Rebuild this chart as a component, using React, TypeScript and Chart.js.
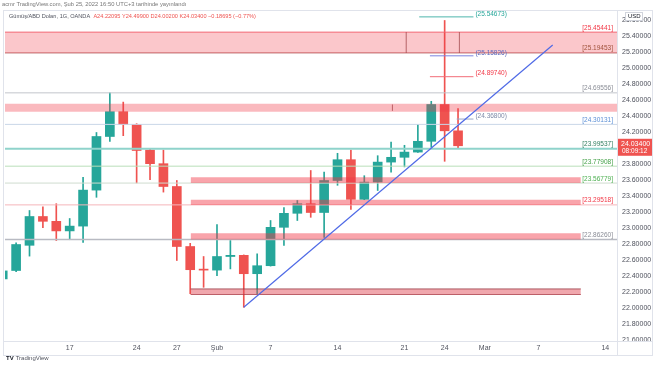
import React, { useEffect, useRef } from "react";
import { Chart, registerables } from "chart.js";
Chart.register(...registerables);

// Trading days (index 0 = 10 Oca 2022)
const dates = [
  "10 Oca", "11 Oca", "12 Oca", "13 Oca", "14 Oca", "17 Oca", "18 Oca", "19 Oca", "20 Oca", "21 Oca",
  "24 Oca", "25 Oca", "26 Oca", "27 Oca", "28 Oca", "31 Oca", "1 Şub", "2 Şub", "3 Şub", "4 Şub",
  "7 Şub", "8 Şub", "9 Şub", "10 Şub", "11 Şub", "14 Şub", "15 Şub", "16 Şub", "17 Şub", "18 Şub",
  "21 Şub", "22 Şub", "23 Şub", "24 Şub", "25 Şub",
];
const opens = [
  22.37, 22.475, 22.79, 23.15, 23.09, 22.97, 23.03, 23.48, 24.15, 24.46,
  24.30, 23.98, 23.81, 23.525, 22.775, 22.49, 22.48, 22.65, 22.665, 22.435,
  22.535, 23.015, 23.19, 23.31, 23.20, 23.60, 23.86, 23.365, 23.58, 23.83,
  23.89, 23.955, 24.09, 24.55, 24.22095,
];
const highs = [
  22.48, 22.82, 23.225, 23.27, 23.31, 23.125, 23.64, 24.20, 24.69556, 24.58,
  24.31, 23.99, 23.98, 23.60, 22.815, 22.65, 23.05, 22.85, 22.67, 22.685,
  23.10, 23.26, 23.35, 23.725, 23.705, 23.94, 23.98, 23.66, 23.91, 24.08,
  24.04, 24.30, 24.59, 25.60, 24.499,
];
const lows = [
  22.36, 22.46, 22.655, 23.01, 22.85, 22.86, 22.825, 23.39, 24.09, 24.16,
  23.57, 23.61, 23.455, 22.60, 22.185, 22.265, 22.41, 22.495, 22.015, 22.185,
  22.53, 22.79, 23.10, 23.14, 22.89, 23.54, 23.24, 23.36, 23.475, 23.705,
  23.77, 23.95, 24.015, 23.84, 24.002,
];
const closes = [
  22.47, 22.80, 23.15, 23.09, 22.97, 23.03, 23.48, 24.15, 24.46, 24.30,
  23.975, 23.81, 23.525, 22.775, 22.485, 22.48, 22.65, 22.665, 22.435, 22.535,
  23.015, 23.19, 23.31, 23.20, 23.60, 23.86, 23.365, 23.58, 23.83, 23.89,
  23.955, 24.09, 24.55, 24.22095, 24.034,
];

const xMin = 0.17;
const xMax = 45.87;
const xTickIdx = [5, 10, 13, 16, 20, 25, 30, 33, 36, 40, 45];
const xTickLabels = ["17", "24", "27", "Şub", "7", "14", "21", "24", "Mar", "7", "14"];
const yTicks = [21.6, 21.8, 22.0, 22.2, 22.4, 22.6, 22.8, 23.0, 23.2, 23.4, 23.6, 23.8, 24.0, 24.2, 24.4, 24.6, 24.8, 25.0, 25.2, 25.4, 25.6];

// full-width horizontal levels
const levelValues = [25.45441, 25.19453, 24.69556, 24.30131, 23.99537, 23.77908, 23.56779, 23.29518, 22.8626];
const levelLineColors = ["#f26d78", "#b86a6a", "#c3c5cc", "#c9d6e8", "#8fd3cb", "#b9dfb9", "#cfdccf", "#f5b5ba", "#b8bac2"];
const levelLineWidths = [1, 1, 1, 1, 2, 1, 1, 1, 1.5];
const levelTextColors = ["#f23645", "#a0523c", "#8a8d96", "#5b8fd6", "#2f7d5e", "#43a047", "#4caf50", "#f23645", "#8a8d96"];

// shaded zones
const zoneTops = [25.45441, 24.56, 23.64, 23.36, 22.94, 22.245];
const zoneBottoms = [25.19453, 24.46, 23.56779, 23.29518, 22.8626, 22.175];
const zoneStarts = [xMin, xMin, 14.03, 14.03, 14.03, 14.03];
const zoneEnds = [xMax, xMax, 43.17, 43.17, 43.17, 43.17];
const zoneFills = [
  "rgba(242,54,69,0.28)", "rgba(242,54,69,0.35)", "rgba(242,54,69,0.45)",
  "rgba(242,54,69,0.45)", "rgba(242,54,69,0.45)", "rgba(225,80,92,0.5)",
];
const zoneBorders = ["rgba(0,0,0,0)", "rgba(0,0,0,0)", "rgba(0,0,0,0)", "rgba(0,0,0,0)", "rgba(0,0,0,0)", "rgba(150,50,60,0.75)"];

// short price notes near the last candles
const noteValues = [25.645, 25.15826, 24.8974, 24.368];
const noteLabels = ["(25.54673)", "(25.15826)", "(24.89740)", "(24.36800)"];
const noteStarts = [31.1, 31.9, 31.9, 33.9];
const noteEnd = 35.15;
const noteColors = ["#4db6ac", "#7b83e0", "#f26d78", "#9aa6c8"];
const noteTextColors = ["#26a69a", "#5c6bc0", "#f23645", "#7f8aa8"];

// rectangle edges inside zones
const edgeX = [30.13, 34.1, 29.1];
const edgeLow = [25.19453, 25.19453, 24.47];
const edgeHigh = [25.45441, 25.45441, 24.55];

// trend line
const trendX = [18, 41.07];
const trendY = [22.016, 25.294];

const UP = "#26a69a";
const DOWN = "#ef5350";
const FONT = '"Liberation Sans", Arial, sans-serif';

export default function App() {
  const ref = useRef<HTMLCanvasElement | null>(null);

  useEffect(() => {
    document.body.style.margin = "0";
    const canvas = ref.current;
    if (!canvas) return;

    const colors = closes.map((c, i) => (c >= opens[i] ? UP : DOWN));
    const datasets: any[] = [];

    zoneTops.forEach((t, k) => {
      datasets.push({
        type: "line",
        data: [{ x: zoneStarts[k], y: t }, { x: zoneEnds[k], y: t }],
        borderColor: zoneBorders[k],
        borderWidth: 1,
        pointRadius: 0,
        fill: { value: zoneBottoms[k] },
        backgroundColor: zoneFills[k],
        order: 1,
      });
    });
    datasets.push({
      type: "line",
      data: [{ x: zoneStarts[5], y: zoneBottoms[5] }, { x: zoneEnds[5], y: zoneBottoms[5] }],
      borderColor: zoneBorders[5],
      borderWidth: 1,
      pointRadius: 0,
      fill: false,
      order: 1,
    });
    edgeX.forEach((ex, k) => {
      datasets.push({
        type: "line",
        data: [{ x: ex, y: edgeLow[k] }, { x: ex, y: edgeHigh[k] }],
        borderColor: "rgba(120,60,60,0.7)",
        borderWidth: 1,
        pointRadius: 0,
        fill: false,
        order: 1,
      });
    });
    levelValues.forEach((v, k) => {
      datasets.push({
        type: "line",
        data: [{ x: xMin, y: v }, { x: xMax, y: v }],
        borderColor: levelLineColors[k],
        borderWidth: levelLineWidths[k],
        pointRadius: 0,
        fill: false,
        order: 2,
      });
    });
    noteValues.forEach((v, k) => {
      datasets.push({
        type: "line",
        data: [{ x: noteStarts[k], y: v }, { x: noteEnd, y: v }],
        borderColor: noteColors[k],
        borderWidth: 1,
        pointRadius: 0,
        fill: false,
        order: 1,
      });
    });
    datasets.push({
      type: "line",
      data: [{ x: trendX[0], y: trendY[0] }, { x: trendX[1], y: trendY[1] }],
      borderColor: "#4f6ae6",
      borderWidth: 1.2,
      pointRadius: 0,
      fill: false,
      order: 0,
    });
    datasets.push({
      type: "bar",
      data: lows.map((l, i) => ({ x: i, y: [l, highs[i]] })),
      backgroundColor: colors,
      barThickness: 1,
      grouped: false,
      clip: 0,
      order: 6,
    });
    datasets.push({
      type: "bar",
      data: opens.map((o, i) => ({ x: i, y: [o, closes[i]] })),
      backgroundColor: colors,
      barThickness: 9,
      minBarLength: 1,
      grouped: false,
      clip: 0,
      order: 5,
    });

    const overlay = {
      id: "overlay",
      afterDraw(chart: any) {
        const { ctx, chartArea, scales } = chart;
        const ys = scales.y;
        const xs = scales.x;
        ctx.save();
        // frame
        ctx.strokeStyle = "#e0e3eb";
        ctx.lineWidth = 1;
        ctx.strokeRect(3.5, 10.5, 649, 345);
        ctx.beginPath();
        ctx.moveTo(chartArea.right + 0.5, 10.5);
        ctx.lineTo(chartArea.right + 0.5, 355.5);
        ctx.moveTo(3.5, chartArea.bottom + 0.5);
        ctx.lineTo(652.5, chartArea.bottom + 0.5);
        ctx.stroke();

        ctx.font = "6.5px " + FONT;
        ctx.textAlign = "right";
        ctx.textBaseline = "bottom";
        levelValues.forEach((v, k) => {
          ctx.fillStyle = levelTextColors[k];
          ctx.fillText("[" + v.toFixed(5) + "]", chartArea.right - 4, ys.getPixelForValue(v) - 1);
        });
        ctx.textAlign = "left";
        ctx.textBaseline = "middle";
        noteValues.forEach((v, k) => {
          ctx.fillStyle = noteTextColors[k];
          ctx.fillText(noteLabels[k], xs.getPixelForValue(noteEnd) + 2, ys.getPixelForValue(v) - 3);
        });

        // last price box
        const last = closes[closes.length - 1];
        const py = ys.getPixelForValue(last);
        ctx.fillStyle = DOWN;
        ctx.fillRect(chartArea.right + 1, py - 7, 34, 17);
        ctx.fillStyle = "#ffffff";
        ctx.font = "7px " + FONT;
        ctx.textAlign = "left";
        ctx.fillText(last.toFixed(5), chartArea.right + 4, py - 1.5);
        ctx.font = "6.5px " + FONT;
        ctx.fillText("08:09:12", chartArea.right + 5, py + 5.5);

        // currency label
        ctx.fillStyle = "#ffffff";
        ctx.fillRect(chartArea.right + 8, 12, 18, 9);
        ctx.strokeStyle = "#d1d4dc";
        ctx.strokeRect(chartArea.right + 8.5, 12.5, 17, 8);
        ctx.fillStyle = "#131722";
        ctx.font = "6px " + FONT;
        ctx.fillText("USD", chartArea.right + 11, 16.8);
        ctx.restore();
      },
    };

    const chart = new Chart(canvas, {
      type: "bar",
      data: { datasets },
      options: {
        animation: false,
        responsive: false,
        devicePixelRatio: 1,
        layout: { padding: { left: 5, top: 12, right: 0, bottom: 11 } },
        plugins: { legend: { display: false }, tooltip: { enabled: false } },
        scales: {
          x: {
            type: "linear",
            min: xMin,
            max: xMax,
            offset: false,
            grid: { display: false, drawTicks: false },
            border: { display: false },
            afterBuildTicks: (s: any) => {
              s.ticks = xTickIdx.map((v) => ({ value: v }));
            },
            afterFit: (s: any) => {
              s.height = 14;
            },
            ticks: {
              autoSkip: false,
              maxRotation: 0,
              padding: 3,
              color: "#50535e",
              font: { family: FONT, size: 7 },
              callback: (v: any) => {
                const k = xTickIdx.indexOf(Number(v));
                return k >= 0 ? xTickLabels[k] : "";
              },
            },
          },
          y: {
            type: "linear",
            position: "right",
            min: 21.594,
            max: 25.706,
            grid: { display: false, drawTicks: false },
            border: { display: false },
            afterBuildTicks: (s: any) => {
              s.ticks = yTicks.map((v) => ({ value: v }));
            },
            afterFit: (s: any) => {
              s.width = 37;
            },
            ticks: {
              padding: 5,
              color: "#50535e",
              font: { family: FONT, size: 7 },
              callback: (v: any) => Number(v).toFixed(5),
            },
          },
        },
      },
      plugins: [overlay],
    } as any);

    return () => chart.destroy();
  }, []);

  return (
    <div style={{ position: "fixed", left: 0, top: 0, width: 654, height: 366, background: "#fff", fontFamily: FONT }}>
      <canvas ref={ref} width={654} height={366} style={{ width: 654, height: 366, display: "block" }} />
      <div style={{ position: "absolute", left: 2, top: 1, fontSize: 5.8, color: "#777", whiteSpace: "nowrap" }}>
        acmr TradingView.com, Şub 25, 2022 16:50 UTC+3 tarihinde yayınlandı
      </div>
      <div style={{ position: "absolute", left: 9, top: 13, fontSize: 5.6, color: "#50535e", whiteSpace: "nowrap" }}>
        Gümüş/ABD Doları, 1G, OANDA{" "}
        <span style={{ color: "#ef5350", marginLeft: 2 }}>
          A24.22095 Y24.49900 D24.00200 K24.03400 −0.18695 (−0.77%)
        </span>
      </div>
      <div style={{ position: "absolute", left: 6, top: 355, fontSize: 6, color: "#50535e", whiteSpace: "nowrap" }}>
        <b style={{ color: "#131722", marginRight: 2 }}>TV</b>TradingView
      </div>
    </div>
  );
}
